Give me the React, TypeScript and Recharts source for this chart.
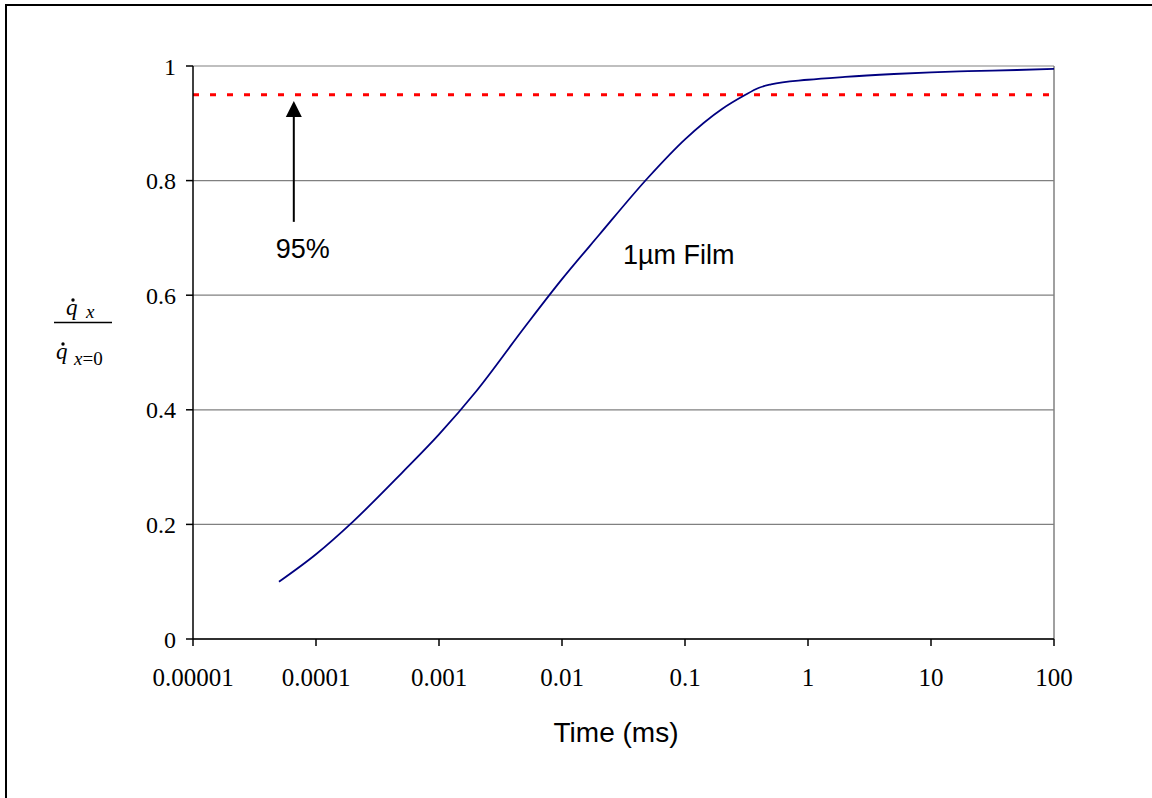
import {
  LineChart,
  Line,
  XAxis,
  YAxis,
  CartesianGrid,
  ReferenceLine,
  ReferenceDot,
} from "recharts";

// time (ms) vs normalised heat flux, 1µm film
const times = [5e-5, 1e-4, 2e-4, 5e-4, 1e-3, 2e-3, 5e-3, 1e-2, 2e-2, 5e-2, 0.1, 0.2, 0.3, 0.4, 0.5, 1, 2, 5, 10, 20, 50, 100];
const fluxRatio = [0.1, 0.148, 0.205, 0.29, 0.357, 0.432, 0.545, 0.628, 0.705, 0.805, 0.872, 0.925, 0.948, 0.962, 0.968, 0.976, 0.981, 0.986, 0.989, 0.991, 0.993, 0.995];

const xTicks = [1e-5, 1e-4, 1e-3, 1e-2, 1e-1, 1, 10, 100];
const xTickLabels = ["0.00001", "0.0001", "0.001", "0.01", "0.1", "1", "10", "100"];
const yTicks = [0, 0.2, 0.4, 0.6, 0.8, 1];
const yTickLabels = ["0", "0.2", "0.4", "0.6", "0.8", "1"];

const threshold = 0.95;
const arrowX = 6.6e-5;
const arrowTail = 0.728;
const arrowBase = 0.911;
const arrowTip = 0.939;
const pctLabel = { x: 7.8e-5, y: 0.665, text: "95%" };
const filmLabel = { x: 0.089, y: 0.654, text: "1µm Film" };

const data = times.map((t, i) => ({ t, ratio: fluxRatio[i] }));

const serif = "'Liberation Serif', 'Times New Roman', serif";
const sans = "'Liberation Sans', Arial, sans-serif";

export default function App() {
  return (
    <div style={{ position: "absolute", left: 0, top: 0, width: 1152, height: 798, background: "#fff", overflow: "hidden" }}>
      <div
        style={{
          position: "absolute",
          left: 5,
          top: 4,
          width: 1160,
          height: 800,
          borderTop: "2px solid #000",
          borderLeft: "2px solid #000",
          boxSizing: "border-box",
        }}
      />
      <div style={{ position: "absolute", left: 0, top: 0 }}>
        <LineChart width={1152} height={798} data={data} margin={{ top: 66, right: 98, bottom: 99, left: 113 }}>
          <CartesianGrid horizontal vertical={false} stroke="#808080" strokeWidth={1.2} />
          <XAxis
            dataKey="t"
            type="number"
            scale="log"
            domain={[1e-5, 100]}
            allowDataOverflow
            ticks={xTicks}
            interval={0}
            height={60}
            tickSize={7}
            tickMargin={22}
            tickFormatter={(v: number) => xTickLabels[xTicks.indexOf(v)] ?? String(v)}
            axisLine={{ stroke: "#000", strokeWidth: 1.5 }}
            tickLine={{ stroke: "#000", strokeWidth: 1.5 }}
            tick={{ fill: "#000", fontFamily: serif, fontSize: 25 }}
          />
          <YAxis
            type="number"
            domain={[0, 1]}
            ticks={yTicks}
            interval={0}
            width={80}
            tickSize={7}
            tickMargin={10}
            tickFormatter={(v: number) => yTickLabels[yTicks.indexOf(v)] ?? String(v)}
            axisLine={{ stroke: "#000", strokeWidth: 1.5 }}
            tickLine={{ stroke: "#000", strokeWidth: 1.5 }}
            tick={{ fill: "#000", fontFamily: serif, fontSize: 24 }}
          />
          <ReferenceLine x={100} stroke="#808080" strokeWidth={1.5} />
          <ReferenceLine y={threshold} stroke="#ff0000" strokeWidth={3} strokeDasharray="6 11" />
          <ReferenceLine
            segment={[
              { x: arrowX, y: arrowTail },
              { x: arrowX, y: arrowBase },
            ]}
            stroke="#000"
            strokeWidth={2}
          />
          <ReferenceDot
            x={arrowX}
            y={arrowTip}
            r={0}
            shape={(p: any) => (
              <path d={`M${p.cx},${p.cy} L${p.cx - 8},${p.cy + 16} L${p.cx + 8},${p.cy + 16} Z`} fill="#000" />
            )}
          />
          <ReferenceDot
            x={pctLabel.x}
            y={pctLabel.y}
            r={0}
            shape={(p: any) => (
              <text x={p.cx} y={p.cy} textAnchor="middle" fontFamily={sans} fontSize={27} fill="#000">
                {pctLabel.text}
              </text>
            )}
          />
          <ReferenceDot
            x={filmLabel.x}
            y={filmLabel.y}
            r={0}
            shape={(p: any) => (
              <text x={p.cx} y={p.cy} textAnchor="middle" fontFamily={sans} fontSize={27} fill="#000">
                {filmLabel.text}
              </text>
            )}
          />
          <Line
            type="monotone"
            dataKey="ratio"
            stroke="#000080"
            strokeWidth={1.8}
            dot={false}
            isAnimationActive={false}
          />
        </LineChart>
      </div>
      <svg width={1152} height={798} style={{ position: "absolute", left: 0, top: 0, pointerEvents: "none" }}>
        {/* y axis title: q-dot x over q-dot x=0 */}
        <text x={66} y={315} fontFamily={serif} fontStyle="italic" fontSize={23} fill="#000">q</text>
        <circle cx={73} cy={300} r={1.7} fill="#000" />
        <text x={86} y={318} fontFamily={serif} fontStyle="italic" fontSize={19} fill="#000">x</text>
        <line x1={54} y1={322.5} x2={112} y2={322.5} stroke="#000" strokeWidth={1.5} />
        <text x={56} y={359} fontFamily={serif} fontStyle="italic" fontSize={23} fill="#000">q</text>
        <circle cx={63} cy={344} r={1.7} fill="#000" />
        <text x={74} y={365} fontFamily={serif} fontStyle="italic" fontSize={19} fill="#000">
          x<tspan fontStyle="normal">=0</tspan>
        </text>
        <text x={616} y={742} textAnchor="middle" fontFamily={sans} fontSize={28} fill="#000">Time (ms)</text>
      </svg>
    </div>
  );
}
